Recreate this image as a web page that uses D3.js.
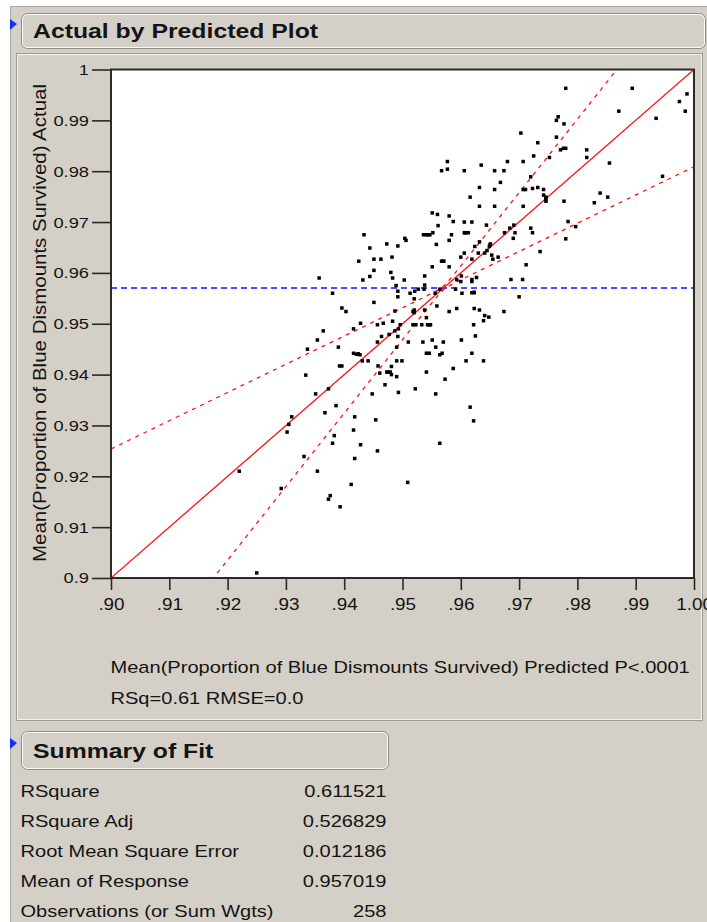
<!DOCTYPE html>
<html><head><meta charset="utf-8">
<script src="https://cdn.jsdelivr.net/npm/d3@7/dist/d3.min.js"></script>
<style>html,body{margin:0;padding:0;background:#fff;overflow:hidden}svg{display:block;font-family:"Liberation Sans",Arial,sans-serif}</style>
</head><body><svg id="c" width="707" height="922"></svg>
<script>
// ---------- data ----------
const predicted=[
0.9780,0.9894,0.9988,0.9975,0.9985,0.9871,0.9935,0.9767,0.9764,0.9777,
0.9703,0.9764,0.9732,0.9771,0.9776,0.9780,0.9816,0.9816,0.9855,0.9725,
0.9752,0.9707,0.9680,0.9567,0.9577,0.9577,0.9606,0.9635,0.9658,0.9674,
0.9668,0.9720,0.9632,0.9658,0.9616,0.9707,0.9711,0.9723,0.9732,0.9742,
0.9742,0.9746,0.9746,0.9777,0.9946,0.9839,0.9852,0.9829,
0.9632,0.9658,0.9707,0.9551,0.9560,0.9580,0.9587,0.9606,0.9619,0.9644,
0.9561,0.9684,0.9691,0.9720,0.9723,0.9784,0.9797,0.9780,0.9536,0.9541,
0.9547,0.9552,0.9558,0.9584,0.9580,0.9606,0.9609,0.9613,0.9675,0.9693,
0.9690,0.9504,0.9506,0.9434,0.9444,0.9473,0.9492,0.9425,0.9451,0.9463,
0.9482,0.9624,0.9632,0.9651,0.9649,0.9645,0.9630,0.9641,0.9653,0.9655,
0.9664,0.9606,0.9600,0.9567,0.9571,0.9580,0.9619,0.9736,0.9712,0.9551,
0.9451,0.9480,0.9444,0.9432,0.9483,0.9357,0.9503,0.9538,0.9489,0.9538,
0.9380,0.9492,0.9492,0.9513,0.9521,0.9527,0.9537,0.9556,0.9591,0.9520,
0.9601,0.9593,0.9600,0.9619,0.9619,0.9627,0.9686,0.9706,0.9564,0.9619,
0.9623,0.9700,0.9602,0.9451,
0.9396,0.9403,0.9487,0.9520,0.9520,0.9538,0.9541,0.9559,0.9580,0.9593,
0.9623,0.9632,0.9641,0.9648,0.9639,0.9674,0.9622,0.9428,0.9457,0.9467,
0.9483,0.9496,0.9493,0.9487,0.9518,0.9523,0.9533,0.9546,0.9548,0.9416,
0.9364,0.9464,0.9477,0.9492,0.9354,0.9625,0.9601,
0.9457,0.9510,0.9535,0.9551,0.9570,0.9390,0.9337,0.9490,0.9557,0.9416,
0.9421,0.9427,0.9541,0.9546,0.9564,0.9568,0.9619,0.9441,0.9431,0.9490,
0.9499,0.9609,0.9639,0.9392,0.9396,0.9458,0.9481,0.9587,0.9334,0.9461,
0.9473,0.9479,0.9481,0.9490,0.9541,0.9573,0.9470,0.9373,0.9522,0.9351,
0.9448,0.9493,0.9557,
0.9386,0.9367,0.9418,0.9454,0.9310,0.9616,0.9622,0.9416,0.9383,0.9380,
0.9428,0.9457,0.9564,0.9331,0.9418,0.9354,0.9412,0.9509,0.9376,0.9373,
0.9393,0.9250,0.9220,0.9292,0.9305,0.9302,
0.9424,0.9544,0.9543,0.9569,0.9623,0.9607,0.9746,0.9650,0.9518,0.9476];
const actual=[
0.9963,0.9963,0.9952,0.9937,0.9918,0.9918,0.9904,0.9907,0.9900,0.9893,
0.9875,0.9867,0.9856,0.9842,0.9845,0.9845,0.9842,0.9827,0.9816,0.9830,
0.9827,0.9819,0.9819,0.9801,0.9804,0.9819,0.9801,0.9812,0.9801,0.9801,
0.9778,0.9789,0.9768,0.9764,0.9749,0.9764,0.9764,0.9766,0.9768,0.9764,
0.9753,0.9749,0.9741,0.9741,0.9790,0.9757,0.9749,0.9738,
0.9731,0.9731,0.9731,0.9718,0.9715,0.9712,0.9701,0.9700,0.9700,0.9694,
0.9693,0.9688,0.9694,0.9688,0.9679,0.9701,0.9691,0.9667,0.9675,0.9675,
0.9675,0.9679,0.9656,0.9675,0.9664,0.9679,0.9679,0.9679,0.9679,0.9679,
0.9668,0.9668,0.9664,0.9675,0.9649,0.9657,0.9653,0.9623,0.9627,0.9627,
0.9631,0.9652,0.9661,0.9657,0.9652,0.9644,0.9639,0.9639,0.9635,0.9627,
0.9631,0.9639,0.9631,0.9623,0.9623,0.9612,0.9627,0.9642,0.9616,0.9612,
0.9605,0.9601,0.9593,0.9586,0.9590,0.9590,0.9586,0.9594,0.9575,0.9576,
0.9560,0.9564,0.9553,0.9560,0.9564,0.9568,0.9568,0.9560,0.9568,0.9549,
0.9594,0.9587,0.9583,0.9587,0.9583,0.9591,0.9587,0.9587,0.9568,0.9561,
0.9561,0.9553,0.9560,0.9542,
0.9531,0.9524,0.9525,0.9527,0.9522,0.9527,0.9512,0.9535,0.9524,0.9530,
0.9530,0.9527,0.9516,0.9513,0.9506,0.9524,0.9498,0.9501,0.9498,0.9501,
0.9505,0.9498,0.9490,0.9486,0.9498,0.9498,0.9498,0.9498,0.9498,0.9490,
0.9486,0.9475,0.9479,0.9475,0.9468,0.9476,0.9468,
0.9464,0.9464,0.9464,0.9468,0.9464,0.9454,0.9450,0.9454,0.9454,0.9442,
0.9440,0.9439,0.9442,0.9442,0.9439,0.9442,0.9442,0.9427,0.9427,0.9427,
0.9427,0.9427,0.9427,0.9417,0.9417,0.9417,0.9416,0.9412,0.9399,0.9403,
0.9405,0.9405,0.9400,0.9396,0.9405,0.9391,0.9380,0.9372,0.9372,0.9362,
0.9362,0.9365,0.9362,
0.9339,0.9325,0.9317,0.9311,0.9317,0.9336,0.9309,0.9291,0.9280,0.9265,
0.9262,0.9250,0.9265,0.9239,0.9235,0.9210,0.9184,0.9188,0.9162,0.9155,
0.9140,0.9010,0.9210,0.9176,0.9302,0.9287,
0.9441,0.9675,0.9498,0.9623,0.9562,0.9679,0.9745,0.9655,0.9524,0.9405];

const xTicks=[0.90,0.91,0.92,0.93,0.94,0.95,0.96,0.97,0.98,0.99,1.00];
const xTickLabels=[".90",".91",".92",".93",".94",".95",".96",".97",".98",".99","1.00"];
const yTicks=[0.90,0.91,0.92,0.93,0.94,0.95,0.96,0.97,0.98,0.99,1.00];
const yTickLabels=["0.9","0.91","0.92","0.93","0.94","0.95","0.96","0.97","0.98","0.99","1"];

const meanResponse=0.957019;      // blue dashed line
const fitIntercept=0, fitSlope=1;   // actual = predicted line
const bandSlope=0.445, bandGap=0.0008; // confidence curves

const titleText="Actual by Predicted Plot";
const yTitle="Mean(Proportion of Blue Dismounts Survived) Actual";
const xCaption="Mean(Proportion of Blue Dismounts Survived) Predicted P<.0001";
const xCaption2="RSq=0.61 RMSE=0.0";
const summaryTitle="Summary of Fit";
const summaryLabels=["RSquare","RSquare Adj","Root Mean Square Error","Mean of Response","Observations (or Sum Wgts)"];
const summaryValues=["0.611521","0.526829","0.012186","0.957019","258"];

// ---------- drawing ----------
const W=707,H=922, SX=1.18;
const svg=d3.select("#c");
const BG="#D4D0C8", TXT="#141414";

function stretch(sel,f){sel.each(function(){const l=this.getComputedTextLength();this.setAttribute("textLength",l*f);this.setAttribute("lengthAdjust","spacingAndGlyphs");});}

svg.append("rect").attr("width",W).attr("height",H).attr("fill","#fff");
svg.append("rect").attr("x",10).attr("y",6).attr("width",W-10).attr("height",H-6).attr("fill",BG);
svg.append("line").attr("x1",10.5).attr("x2",10.5).attr("y1",6).attr("y2",H).attr("stroke","#a8a8a8");
svg.append("line").attr("x1",10).attr("x2",W).attr("y1",6.5).attr("y2",6.5).attr("stroke","#a8a8a8");

// panel frame
svg.append("rect").attr("x",16.5).attr("y",53.5).attr("width",686).attr("height",667).attr("fill","none").attr("stroke","#9c9a94");
svg.append("rect").attr("x",17.5).attr("y",54.5).attr("width",684).attr("height",665).attr("fill","none").attr("stroke","#f4f3ef");

function header(x,y,w,h,text,ty){
  svg.append("rect").attr("x",x+0.5).attr("y",y+0.5).attr("width",w).attr("height",h).attr("rx",6).attr("fill",BG).attr("stroke","#8e8c86");
  svg.append("rect").attr("x",x+1.5).attr("y",y+1.5).attr("width",w-2).attr("height",h-2).attr("rx",5).attr("fill","none").attr("stroke","#fbfaf7");
  svg.append("text").attr("x",x+12).attr("y",ty).attr("font-size",21).attr("font-weight","bold").attr("fill",TXT).text(text).call(stretch,SX);
}
header(21,13,684,35,titleText,38);
header(21,731,367,38,summaryTitle,758);
// disclosure triangles
[19,738].forEach(t=>{
  svg.append("path").attr("d",`M10,${t} L17,${t+5} L10,${t+11} Z`).attr("fill","#1030ff");
});

const x=d3.scaleLinear().domain([0.90,1.00]).range([111,694]);
const y=d3.scaleLinear().domain([0.90,1.00]).range([578,69.5]);

svg.append("rect").attr("x",111).attr("y",69.5).attr("width",583).attr("height",508.5).attr("fill","#fff");

svg.append("clipPath").attr("id","clip").append("rect").attr("x",111).attr("y",69.5).attr("width",583).attr("height",508.5);
const plot=svg.append("g").attr("clip-path","url(#clip)");

// mean line
plot.append("line").attr("x1",x(0.90)).attr("x2",x(1.00)).attr("y1",y(meanResponse)).attr("y2",y(meanResponse))
  .attr("stroke","#1010ff").attr("stroke-width",1.4).attr("stroke-dasharray","6,4");

// fit line & confidence curves
const xs=d3.range(0,401).map(i=>0.90+i*0.00025);
const fit=v=>fitIntercept+fitSlope*v;
const half=v=>bandSlope*Math.sqrt(bandGap*bandGap+(v-meanResponse)*(v-meanResponse));
plot.append("path").attr("d",d3.line().x(v=>x(v)).y(v=>y(fit(v)))([0.90,1.00]))
  .attr("fill","none").attr("stroke","#ff1010").attr("stroke-width",1.3);
[1,-1].forEach(s=>{
  plot.append("path").attr("d",d3.line().x(v=>x(v)).y(v=>y(fit(v)+s*half(v)))(xs))
    .attr("fill","none").attr("stroke","#ff1010").attr("stroke-width",1.3).attr("stroke-dasharray","4,5");
});

// points
plot.selectAll("rect.pt").data(predicted.map((p,i)=>[p,actual[i]])).enter().append("rect").attr("class","pt")
  .attr("x",d=>x(d[0])-1.75).attr("y",d=>y(d[1])-1.75).attr("width",3.5).attr("height",3.5).attr("fill","#000");

// border
svg.append("rect").attr("x",111).attr("y",69.5).attr("width",583).attr("height",508.5).attr("fill","none").attr("stroke","#2a2a2a").attr("stroke-width",2);

// axes
const ya=svg.append("g").attr("transform","translate(111,0)")
  .call(d3.axisLeft(y).tickValues(yTicks).tickFormat((d,i)=>yTickLabels[i]).tickSize(19).tickPadding(3));
const xa=svg.append("g").attr("transform","translate(0,578)")
  .call(d3.axisBottom(x).tickValues(xTicks).tickFormat((d,i)=>xTickLabels[i]).tickSize(12).tickPadding(9));
[ya,xa].forEach(a=>{
  a.select(".domain").remove();
  a.selectAll(".tick line").attr("stroke","#2a2a2a").attr("stroke-width",1.6);
  a.selectAll(".tick text").attr("fill",TXT).attr("font-family","Liberation Sans, Arial, sans-serif");
});
ya.selectAll(".tick text").attr("font-size",15.5).call(stretch,SX);
xa.selectAll(".tick text").attr("font-size",16).call(stretch,SX);

// y title
svg.append("text").attr("transform","translate(46,323) rotate(-90)").attr("text-anchor","middle")
  .attr("font-size",17.5).attr("fill",TXT).attr("textLength",478).attr("lengthAdjust","spacingAndGlyphs").text(yTitle);

// captions
svg.append("text").attr("x",110.5).attr("y",673).attr("font-size",17).attr("fill",TXT).text(xCaption).call(stretch,SX);
svg.append("text").attr("x",110.5).attr("y",704).attr("font-size",17).attr("fill",TXT).text(xCaption2).call(stretch,SX);

// summary table
summaryLabels.forEach((t,i)=>{
  svg.append("text").attr("x",20.5).attr("y",797+i*30).attr("font-size",17).attr("fill",TXT).text(t).call(stretch,SX);
  svg.append("text").attr("x",386.5).attr("y",797+i*30).attr("font-size",17).attr("fill",TXT).attr("text-anchor","end").text(summaryValues[i]).call(stretch,SX);
});
</script></body></html>
